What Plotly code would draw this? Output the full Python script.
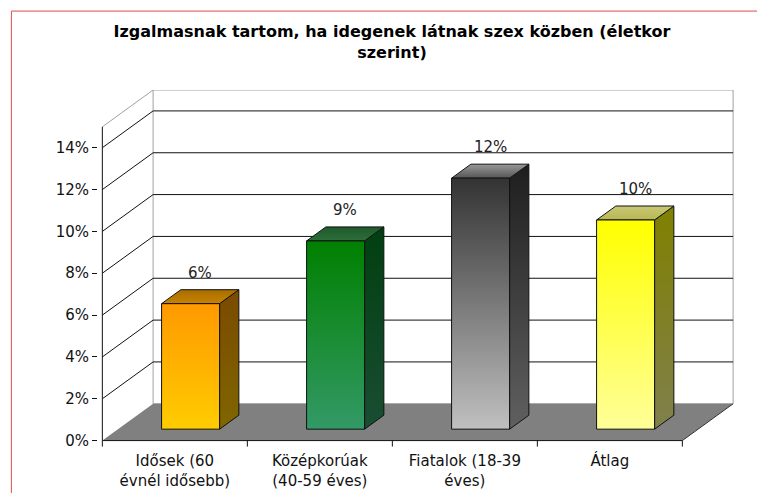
import plotly.graph_objects as go

# ---------------- data ----------------
categories = ["Idősek (60<br>évnél idősebb)", "Középkorúak<br>(40-59 éves)",
              "Fiatalok (18-39<br>éves)", "Átlag"]
values = [6, 9, 12, 10]
value_labels = ["6%", "9%", "12%", "10%"]
y_ticks = [0, 2, 4, 6, 8, 10, 12, 14]
y_tick_labels = ["0%", "2%", "4%", "6%", "8%", "10%", "12%", "14%"]
title_text = "Izgalmasnak tartom, ha idegenek látnak szex közben (életkor<br>szerint)"

# ---------------- styles ----------------
front_colors = [("#FFCC00", "#FF9900"), ("#339966", "#008000"),
                ("#C0C0C0", "#333333"), ("#FFFF99", "#FFFF00")]  # (bottom, top)
side_colors = [("#806600", "#7A4A00"), ("#1A4D33", "#004010"),
               ("#606060", "#1E1E1E"), ("#80804D", "#808000")]
top_colors = [("#C88400", "#A86C00"), ("#2D6E3A", "#1F5A2C"),
              ("#555555", "#999999"), ("#B8B850", "#C8C878")]

WALL_TOP = 15.0      # height of the walls in axis units
DX, DY = 0.35, 1.76  # 3-D depth offset in axis units
D0, D1 = 0.31, 0.69  # bar position within depth
HALF_W = 0.2
FONT = "DejaVu Sans"
PX_X = 145.0         # pixels per category unit
PX_Y = 20.94         # pixels per percent
PAD_L = 0.03         # extra axis room so edge lines are not clipped
PAD_B = 0.45
PAD_R = 0.02

fig = go.Figure()
shapes = []


def poly(pts):
    return "M " + " L ".join(f"{x},{y}" for x, y in pts) + " Z"


x_left, x_right = -0.5, len(categories) - 0.5
line_dark = "#111111"
# left side wall
shapes.append(dict(type="path", layer="below", xref="x", yref="y",
                   path=poly([(x_left, 0), (x_left + DX, DY), (x_left + DX, WALL_TOP + DY), (x_left, WALL_TOP)]),
                   fillcolor="white", line=dict(width=0)))
# back wall
shapes.append(dict(type="rect", layer="below", xref="x", yref="y",
                   x0=x_left + DX, x1=x_right + DX, y0=DY, y1=WALL_TOP + DY,
                   fillcolor="white", line=dict(color="#A0A0A0", width=1)))
# left wall top edge
shapes.append(dict(type="line", layer="below", xref="x", yref="y",
                   x0=x_left, y0=WALL_TOP, x1=x_left + DX, y1=WALL_TOP + DY,
                   line=dict(color="#A0A0A0", width=1)))
# floor
shapes.append(dict(type="path", layer="below", xref="x", yref="y",
                   path=poly([(x_left, 0), (x_right, 0), (x_right + DX, DY), (x_left + DX, DY)]),
                   fillcolor="#808080", line=dict(width=0)))
# gridlines
for v in y_ticks[1:]:
    shapes.append(dict(type="line", layer="below", xref="x", yref="y",
                       x0=x_left, y0=v, x1=x_left + DX, y1=v + DY,
                       line=dict(color=line_dark, width=1)))
    shapes.append(dict(type="line", layer="below", xref="x", yref="y",
                       x0=x_left + DX, y0=v + DY, x1=x_right + DX, y1=v + DY,
                       line=dict(color=line_dark, width=1)))
# floor edges
shapes.append(dict(type="line", layer="below", xref="x", yref="y",
                   x0=x_left, y0=0, x1=x_right, y1=0, line=dict(color=line_dark, width=1)))
shapes.append(dict(type="line", layer="below", xref="x", yref="y",
                   x0=x_right, y0=0, x1=x_right + DX, y1=DY, line=dict(color="#333333", width=1)))
# y axis line
shapes.append(dict(type="line", layer="below", xref="x", yref="y",
                   x0=x_left, y0=0, x1=x_left, y1=WALL_TOP, line=dict(color=line_dark, width=1)))
# category boundary ticks
for i in range(len(categories) + 1):
    shapes.append(dict(type="line", layer="below", xref="x", yref="y",
                       ysizemode="pixel", yanchor=0, x0=x_left + i, x1=x_left + i, y0=0, y1=-6,
                       line=dict(color=line_dark, width=1)))

# plot-area geometry in pixels
plot_l = 102 - PAD_L * PX_X
plot_r = 733 + PAD_R * PX_X
plot_t = 90
plot_b = 441 + PAD_B * PX_Y
W, H = 757, 493
pw, ph = plot_r - plot_l, plot_b - plot_t


def px_to_paper(px, py):
    return (px - plot_l) / pw, (plot_b - py) / ph


fx0, fy1 = px_to_paper(11, 11)
fx1, fy0 = px_to_paper(800, 520)
shapes.append(dict(type="rect", xref="paper", yref="paper",
                   x0=fx0, x1=fx1, y0=fy0, y1=fy1,
                   line=dict(color="#D85050", width=1), fillcolor="rgba(0,0,0,0)"))


def add_face(pts, cols):
    xs = [p[0] for p in pts] + [pts[0][0]]
    ys = [p[1] for p in pts] + [pts[0][1]]
    fig.add_trace(go.Scatter(
        x=xs, y=ys, mode="lines", fill="toself",
        fillgradient=dict(type="vertical", colorscale=[[0, cols[0]], [1, cols[1]]]),
        line=dict(color=line_dark, width=1), hoverinfo="skip", showlegend=False))


for i, v in enumerate(values):
    xl0 = i - HALF_W + D0 * DX
    xr0 = i + HALF_W + D0 * DX
    xl1 = i - HALF_W + D1 * DX
    xr1 = i + HALF_W + D1 * DX
    yb0, yb1 = D0 * DY, D1 * DY
    add_face([(xr0, yb0), (xr1, yb1), (xr1, v + yb1), (xr0, v + yb0)], side_colors[i])
    add_face([(xl0, v + yb0), (xr0, v + yb0), (xr1, v + yb1), (xl1, v + yb1)], top_colors[i])
    add_face([(xl0, yb0), (xr0, yb0), (xr0, v + yb0), (xl0, v + yb0)], front_colors[i])

annotations = []
for i, v in enumerate(values):
    annotations.append(dict(x=i + 0.5 * DX, y=v + 0.5 * DY, xref="x", yref="y",
                            text=value_labels[i], showarrow=False, yshift=24,
                            font=dict(family=FONT, size=15, color="#222222")))

fig.update_layout(
    width=W, height=H,
    margin=dict(l=plot_l, r=W - plot_r, t=plot_t, b=H - plot_b, autoexpand=False),
    paper_bgcolor="white", plot_bgcolor="rgba(0,0,0,0)",
    title=dict(text=title_text, x=392 / W, xanchor="center", y=1 - 37 / H, yanchor="top",
               yref="container",
               font=dict(family=FONT, size=16, color="#000000", weight="bold")),
    shapes=shapes, annotations=annotations,
    xaxis=dict(range=[x_left - PAD_L, x_right + DX + PAD_R], showgrid=False, zeroline=False,
               showline=False, tickvals=list(range(len(categories))), ticktext=categories,
               ticks="", tickfont=dict(family=FONT, size=15, color=line_dark), fixedrange=True),
    yaxis=dict(range=[-PAD_B, WALL_TOP + DY], showgrid=False, zeroline=False, showline=False,
               tickvals=y_ticks, ticktext=y_tick_labels, ticks="outside", ticklen=5,
               tickcolor=line_dark, tickfont=dict(family=FONT, size=15, color=line_dark),
               fixedrange=True),
    showlegend=False,
)

fig.write_html("out.html", config={"displayModeBar": False},
               post_script="document.body.style.margin='0';")
